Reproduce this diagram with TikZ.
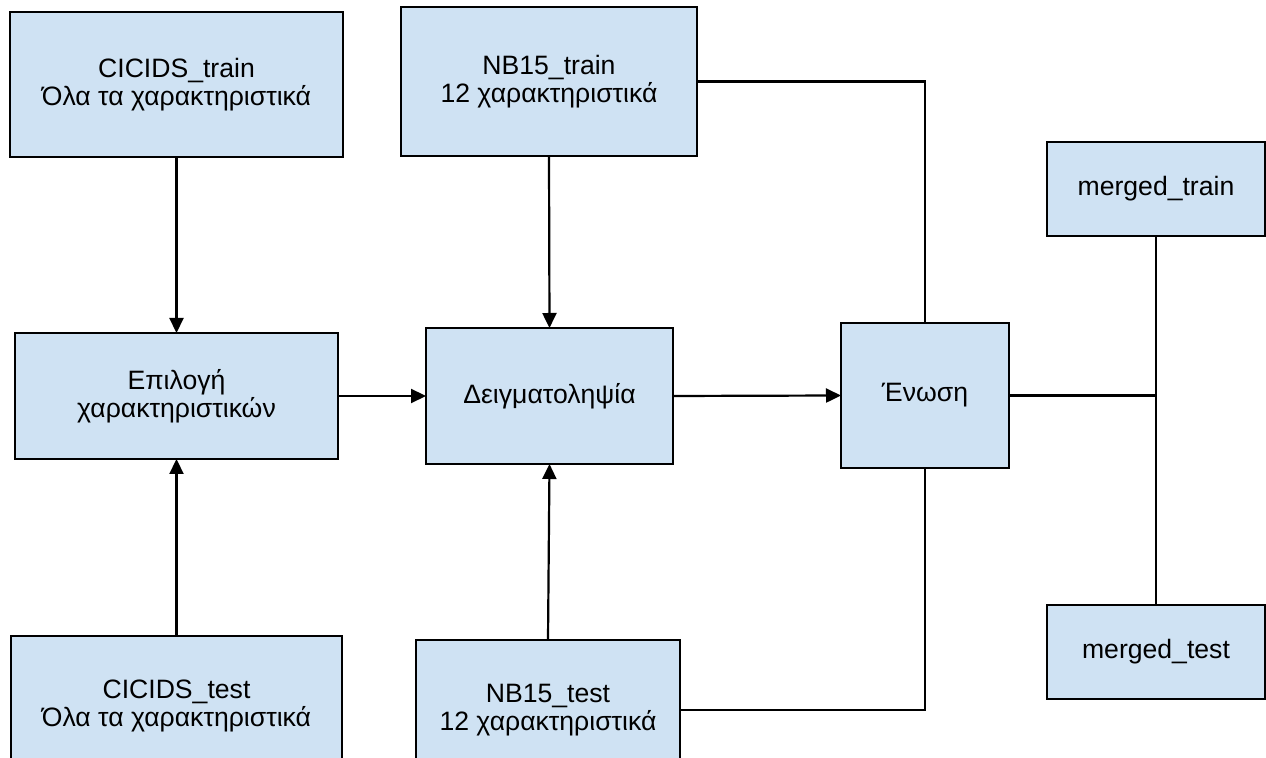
\documentclass[tikz,border=0pt]{standalone}
\usepackage{fontspec}
\setmainfont{Liberation Sans}
\usetikzlibrary{arrows.meta}
\definecolor{boxfill}{HTML}{CFE2F3}
\tikzset{
  box/.style={draw=black, line width=1.1pt, fill=boxfill, inner sep=0pt, outer sep=0pt,
    align=center, font=\fontsize{13.3}{14.2}\selectfont},
  conn/.style={draw=black, line width=1.1pt},
  arr/.style={conn, -{Triangle[length=7.5pt,width=7pt]}}
}
\begin{document}
\begin{tikzpicture}[x=0.5pt,y=-0.5pt]
\useasboundingbox (0,0) rectangle (1266,758);
\clip (0,0) rectangle (1266,758);
\node[box, minimum width=166.5pt, minimum height=72.5pt] (cictr) at (176.5,84.5) {CICIDS\_train\\Όλα τα χαρακτηριστικά};
\node[box, minimum width=148pt, minimum height=74.5pt] (nbtr) at (549,81.5) {NB15\_train\\12 χαρακτηριστικά};
\node[box, minimum width=161.5pt, minimum height=63pt] (sel) at (176.5,396) {Επιλογή\\χαρακτηριστικών};
\node[box, minimum width=123.5pt, minimum height=68pt] (samp) at (549.5,396) {Δειγματοληψία};
\node[box, minimum width=84pt, minimum height=72.5pt] (union) at (925,395.5) {Ένωση};
\node[box, minimum width=109pt, minimum height=47pt] (mtr) at (1156,189) {merged\_train};
\node[box, minimum width=109pt, minimum height=47pt] (mte) at (1156,652) {merged\_test};
\node[box, minimum width=165.5pt, minimum height=70pt] (cicte) at (176.5,706) {CICIDS\_test\\Όλα τα χαρακτηριστικά};
\node[box, minimum width=132pt, minimum height=70pt] (nbte) at (548,710) {NB15\_test\\12 χαρακτηριστικά};
\coordinate (junc) at (mtr.south |- union.east);
\draw[arr] (cictr.south) -- (sel.north);
\draw[arr] (cicte.north) -- (sel.south);
\draw[arr] (sel.east) -- (samp.west);
\draw[arr] (nbtr.south) -- (samp.north);
\draw[arr] (nbte.north) -- (samp.south);
\draw[arr] (samp.east) -- (union.west);
\draw[conn] (nbtr.east) -| (union.north);
\draw[conn] (nbte.east) -| (union.south);
\draw[conn] (union.east) -- (junc);
\draw[conn] (mtr.south) -- (mte.north);
\end{tikzpicture}
\end{document}
